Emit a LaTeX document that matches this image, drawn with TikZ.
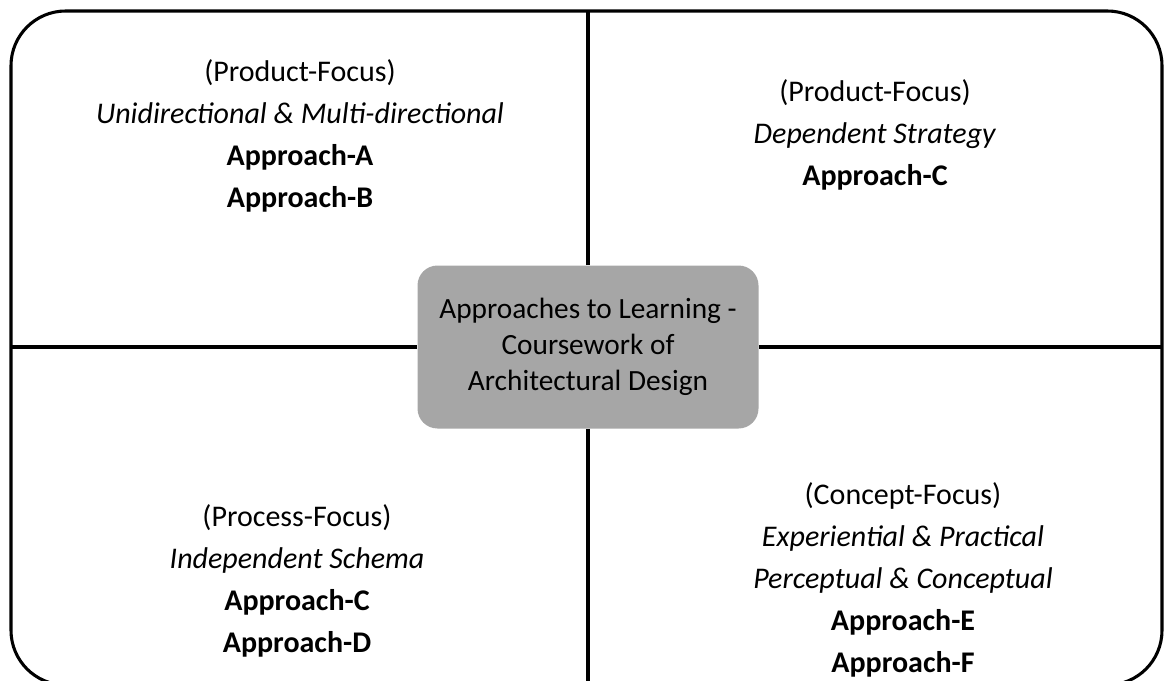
\documentclass[tikz,border=0pt]{standalone}
\usepackage{fontspec}
\setmainfont{Carlito}
\usetikzlibrary{positioning}
\definecolor{hubgray}{HTML}{A6A6A6}
\tikzset{
    %Define style for the outer frame and the cross lines
    frame/.style={
           draw=black,
           line width=2.3pt,
           rounded corners=41pt},
    divider/.style={
           draw=black,
           line width=2.3pt},
    %Define style for the centre box
    hub/.style={
           rectangle,
           rounded corners=15pt,
           fill=hubgray,
           minimum width=255.75pt,
           minimum height=122.25pt,
           align=center,
           font=\fontsize{22}{27}\selectfont},
    %Define style for the quadrant texts
    quad/.style={
           align=center,
           inner sep=0pt,
           font=\fontsize{22.5}{31.5}\selectfont}
}

\begin{document}
\begin{tikzpicture}[x=0.75pt,y=-0.75pt]
\useasboundingbox (0,0) rectangle (1164,681);
\clip (0,0) rectangle (1164,681);
\draw[frame] (11,11) rectangle (1162,685);
\coordinate (top) at (588,11);
\coordinate (bottom) at (588,685);
\coordinate (left) at (11,347);
\coordinate (right) at (1162,347);
\node[hub](hub) at (588,347){Approaches to Learning -\\Coursework of\\Architectural Design};
\node[quad](ql) at (300,136){(Product-Focus)\\\textit{Unidirectional \& Multi-directional}\\\textbf{Approach-A}\\\textbf{Approach-B}};
\node[quad](qr) at (875,135){(Product-Focus)\\\textit{Dependent Strategy}\\\textbf{Approach-C}};
\node[quad](bl) at (297,581){(Process-Focus)\\\textit{Independent Schema}\\\textbf{Approach-C}\\\textbf{Approach-D}};
\node[quad](br) at (903,580){(Concept-Focus)\\\textit{Experiential \& Practical}\\\textit{Perceptual \& Conceptual}\\\textbf{Approach-E}\\\textbf{Approach-F}};
\path[divider]
	(hub.north) edge (top)
	(hub.south) edge (bottom)
	(hub.west) edge (left)
	(hub.east) edge (right);
\end{tikzpicture}
\end{document}
